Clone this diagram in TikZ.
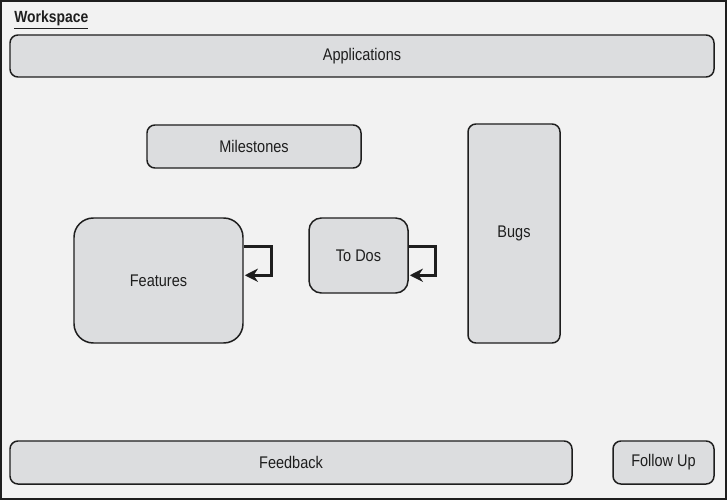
\documentclass[tikz,border=0pt]{standalone}
\usepackage{fontspec}
\setmainfont{Liberation Sans}[FakeStretch=0.86]
\usetikzlibrary{calc,arrows.meta}
\definecolor{pagegray}{HTML}{F2F2F2}
\definecolor{boxgray}{HTML}{DCDDDF}
\definecolor{inkline}{HTML}{1E1E1E}
\begin{document}
\begin{tikzpicture}[x=0.02cm, y=-0.02cm,
    box/.style={draw=inkline, fill=boxgray, line width=0.85pt, rounded corners=4.5pt, inner sep=0pt, font=\fontsize{9.6}{11}\selectfont, text=inkline},
    self loop/.style={draw=inkline, line width=1.6pt, -{Stealth[length=7.5pt, width=7.5pt]}}]

    % fond et cadre
    \useasboundingbox (0,0) rectangle (727,500);
    \draw[draw=inkline, fill=pagegray, line width=0.85pt] (1,1) rectangle (726,499);
    \node[anchor=base west, font=\bfseries\fontsize{9.2}{11}\selectfont, text=inkline, inner sep=0pt] (ws) at (14,23) {\underline{Workspace}};

    % boites
    \node[box, minimum width=704*0.02cm, minimum height=42*0.02cm] (apps) at (362,56) {Applications};
    \node[box, minimum width=214*0.02cm, minimum height=43*0.02cm] (miles) at (254,146.5) {Milestones};
    \node[box, minimum width=92*0.02cm, minimum height=219*0.02cm] (bugs) at (514,233.5) {Bugs};
    \node[box, rounded corners=11pt, minimum width=169*0.02cm, minimum height=125*0.02cm] (feat) at (158.5,280.5) {Features};
    \node[box, rounded corners=7pt, minimum width=99*0.02cm, minimum height=75*0.02cm] (todo) at (358.5,255.5) {To Dos};
    \node[box, minimum width=562*0.02cm, minimum height=43*0.02cm] (feed) at (291,462.5) {Feedback};
    \node[box, minimum width=101*0.02cm, minimum height=43*0.02cm] (follow) at (663.5,462.5) {Follow Up};

    % boucles
    \draw[self loop] ($(feat.north east)+(0,29)$) -- ++(28,0) -- ++(0,29) -- ++(-27,0);
    \draw[self loop] ($(todo.north east)+(0,29)$) -- ++(27,0) -- ++(0,29) -- ++(-26,0);
\end{tikzpicture}
\end{document}
